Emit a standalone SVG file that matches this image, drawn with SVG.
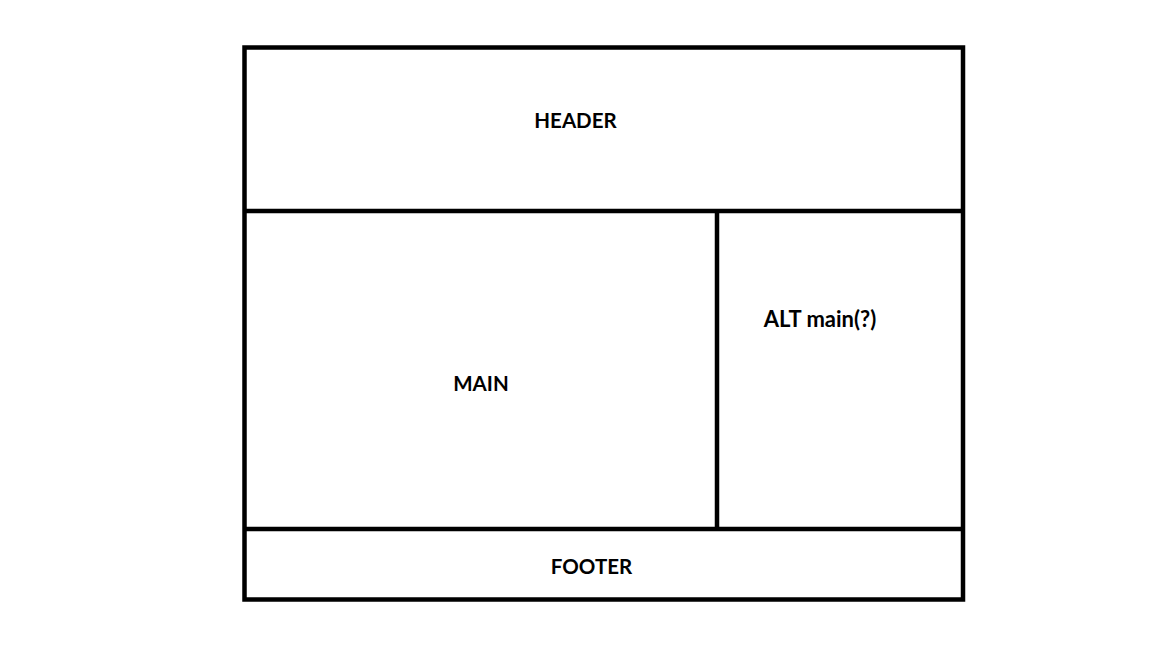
<svg xmlns="http://www.w3.org/2000/svg" width="1152" height="648" viewBox="0 0 1152 648">
<style>
.box{fill:none;stroke:#000;stroke-width:4.5}
.ln{stroke:#000;stroke-width:4.5;fill:none}
.lbl{font-family:Lato,"Liberation Sans",sans-serif;font-weight:bold;font-size:20.5px;fill:#000;text-anchor:middle}
</style>
<rect width="1152" height="648" fill="#fff"/>
<g id="frame"><rect class="box" x="244.5" y="47.5" width="718.5" height="552"/></g>
<g id="connectors">
<line class="ln" x1="244.5" y1="211" x2="963" y2="211"/>
<line class="ln" x1="717" y1="211" x2="717" y2="529"/>
<line class="ln" x1="244.5" y1="529" x2="963" y2="529"/>
</g>
<g id="header"><text class="lbl" x="575.5" y="128">HEADER</text></g>
<g id="main"><text class="lbl" x="481" y="391">MAIN</text></g>
<g id="alt"><text class="lbl" x="820" y="327" style="font-size:22px">ALT main(?)</text></g>
<g id="footer"><text class="lbl" x="591.5" y="574">FOOTER</text></g>
</svg>
